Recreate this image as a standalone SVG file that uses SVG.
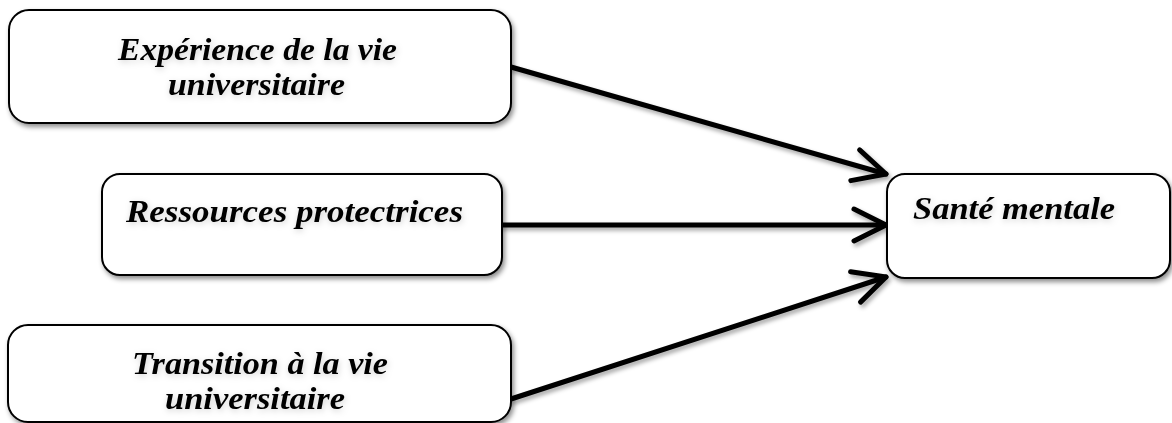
<svg xmlns="http://www.w3.org/2000/svg" width="1172" height="423" viewBox="0 0 1172 423">
<defs>
<style>
.box{fill:#fff;stroke:#000;stroke-width:2;filter:url(#sh)}
.lbl{font-family:"Liberation Serif","DejaVu Serif",serif;font-weight:bold;font-style:italic;font-size:32px;fill:#000;filter:url(#tsh)}
.con{stroke:#000;stroke-width:5;fill:none;stroke-linecap:round}
</style>
<filter id="sh" x="-10%" y="-10%" width="130%" height="140%">
<feDropShadow dx="2" dy="3" stdDeviation="2.5" flood-color="#000" flood-opacity="0.45"/>
</filter>
<filter id="tsh" x="-10%" y="-30%" width="130%" height="170%">
<feDropShadow dx="1" dy="2" stdDeviation="3" flood-color="#000" flood-opacity="0.18"/>
</filter>
<filter id="lsh" x="-10%" y="-30%" width="130%" height="170%">
<feDropShadow dx="2" dy="3" stdDeviation="2" flood-color="#000" flood-opacity="0.35"/>
</filter>
<marker id="arr" markerUnits="userSpaceOnUse" markerWidth="60" markerHeight="60" refX="0" refY="0" viewBox="-40 -30 60 60" orient="auto" overflow="visible">
<path d="M-32,-16 L0,0 L-32,16" fill="none" stroke="#000" stroke-width="5" stroke-linecap="round" stroke-linejoin="round"/>
</marker>
</defs>
<g id="connectors" filter="url(#lsh)">
<line class="con" x1="511" y1="67" x2="886" y2="174" marker-end="url(#arr)"/>
<line class="con" x1="502" y1="225" x2="886" y2="225" marker-end="url(#arr)"/>
<line class="con" x1="511" y1="399" x2="886" y2="277" marker-end="url(#arr)"/>
</g>
<g id="node-experience">
<rect class="box" x="9" y="10" width="502" height="113" rx="20" ry="20"/>
<text class="lbl" x="118" y="60" textLength="279" lengthAdjust="spacingAndGlyphs">Expérience de la vie</text>
<text class="lbl" x="168" y="95" textLength="177" lengthAdjust="spacingAndGlyphs">universitaire</text>
</g>
<g id="node-ressources">
<rect class="box" x="102" y="174" width="400" height="101" rx="18" ry="18"/>
<text class="lbl" x="126" y="222" textLength="337" lengthAdjust="spacingAndGlyphs">Ressources protectrices</text>
</g>
<g id="node-transition">
<rect class="box" x="8" y="325" width="503" height="97" rx="20" ry="20"/>
<text class="lbl" x="132" y="374" textLength="256" lengthAdjust="spacingAndGlyphs">Transition à la vie</text>
<text class="lbl" x="165" y="409" textLength="180" lengthAdjust="spacingAndGlyphs">universitaire</text>
</g>
<g id="node-sante">
<rect class="box" x="887" y="174" width="283" height="104" rx="18" ry="18"/>
<text class="lbl" x="913" y="219" textLength="202" lengthAdjust="spacingAndGlyphs">Santé mentale</text>
</g>
</svg>
